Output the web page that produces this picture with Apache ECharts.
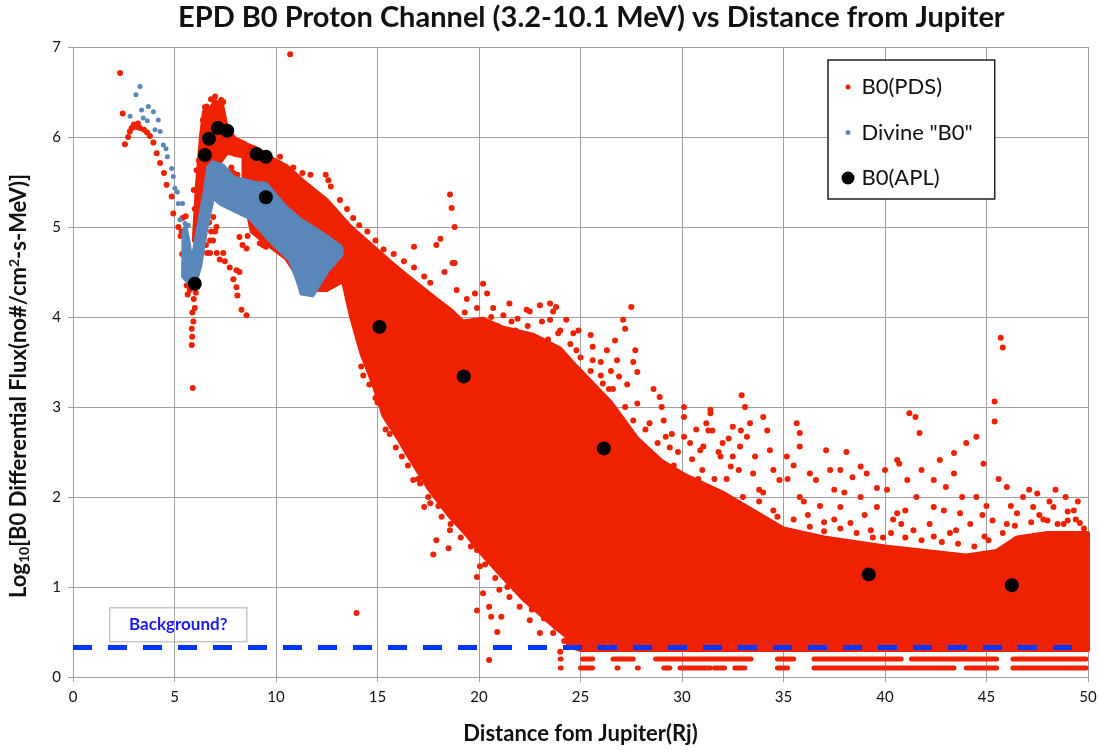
<!DOCTYPE html>
<html>
<head>
<meta charset="utf-8" />
<title>EPD B0 Proton Channel vs Distance from Jupiter</title>
<script src="https://cdn.jsdelivr.net/npm/echarts@6/dist/echarts.min.js"></script>
<style>
  html, body { margin: 0; padding: 0; background: #fff; }
  #chart { width: 1099px; height: 752px; }
</style>
</head>
<body>
<div id="chart"></div>
<script>
// ---- data (x = Rj, y = log10 flux) ----
const xTicks = [0, 5, 10, 15, 20, 25, 30, 35, 40, 45, 50];
const yTicks = [0, 1, 2, 3, 4, 5, 6, 7];
const backgroundLevel = 0.33;

// dense part of the B0(PDS) cloud, outlined clockwise
const pdsCoreEdge = [
  [8.4, 5.93], [9.0, 5.88], [9.8, 5.76], [10.5, 5.68], [11.4, 5.5], [12.5, 5.3], [13.6, 5.02],
  [14.5, 4.84], [15.6, 4.62], [16.4, 4.47], [17.9, 4.2], [18.6, 4.08], [19.2, 3.95], [20.2, 3.98],
  [21.2, 3.88], [22.7, 3.8], [24.0, 3.65], [24.8, 3.45], [26.5, 3.05], [27.8, 2.65], [29.0, 2.4],
  [30.1, 2.25], [32.0, 2.05], [33.5, 1.85], [35.0, 1.65], [37.0, 1.55], [40.0, 1.45], [42.0, 1.4],
  [44.0, 1.35], [45.5, 1.4], [46.5, 1.55], [48.0, 1.6], [50.0, 1.6],
  [50.0, 0.3], [25.0, 0.3], [24.4, 0.35], [24.3, 0.45], [23.5, 0.6], [22.2, 0.86], [21.0, 1.15],
  [20.0, 1.4], [19.5, 1.55], [18.5, 1.8], [17.5, 2.1], [16.4, 2.5], [16.1, 2.62], [15.3, 2.9],
  [14.8, 3.25], [14.2, 3.6], [13.7, 4.0], [13.3, 4.4], [12.5, 4.3], [11.5, 4.3],
  [10.5, 4.65], [9.5, 4.82], [8.8, 4.95], [8.4, 5.4]
];
const pdsPeakEdge = [
  [5.95, 4.85], [6.1, 5.45], [6.3, 6.0], [6.45, 6.28], [6.7, 6.3], [7.0, 6.4], [7.35, 6.35],
  [7.6, 6.08], [8.0, 5.98], [8.5, 5.93], [8.5, 5.78], [8.0, 5.8], [7.6, 5.83], [7.25, 5.72],
  [6.9, 5.6], [6.55, 5.3], [6.25, 4.85]
];
// scattered B0(PDS) samples
const pdsLeft = [
  [2.32, 6.71], [2.45, 6.26], [2.56, 5.92], [2.72, 6.0], [2.8, 6.06], [2.89, 6.1], [3.0, 6.14],
  [3.1, 6.11], [3.2, 6.15], [3.3, 6.1], [3.5, 6.08], [3.65, 6.05], [3.79, 6.01], [3.96, 5.94],
  [4.12, 5.82], [4.29, 5.71], [4.48, 5.6], [4.61, 5.47], [4.86, 5.34], [4.94, 5.15], [5.19, 5.0],
  [5.3, 4.9]
];
const pdsSpike = [
  [5.9, 3.21], [5.85, 3.69], [5.87, 3.78], [5.85, 3.87], [5.93, 3.95], [5.88, 4.05], [6.0, 4.1],
  [5.95, 4.2], [6.05, 4.27], [5.75, 4.3], [5.65, 4.25], [5.6, 4.35], [6.1, 4.48], [6.15, 4.62],
  [6.12, 4.75], [5.5, 4.82], [5.6, 4.78], [5.38, 4.7], [5.35, 4.95], [5.4, 5.1], [5.55, 5.12],
  [5.95, 5.41], [6.0, 5.2], [6.09, 5.63], [6.2, 5.74], [6.4, 6.19], [6.5, 6.33], [6.58, 6.34],
  [6.3, 5.04], [6.45, 4.9], [6.55, 4.8], [6.6, 4.71], [6.35, 4.85], [6.8, 6.42], [7.0, 6.45],
  [7.4, 6.39], [7.3, 6.41]
];
const pdsTrail = [
  [6.7, 5.05], [6.75, 4.85], [6.8, 4.95], [6.91, 5.11], [6.9, 4.85], [7.0, 4.95], [7.07, 5.0],
  [6.75, 4.71], [7.08, 4.71], [7.23, 4.64], [7.4, 4.71], [7.48, 4.62], [7.72, 4.55], [7.9, 4.42],
  [8.05, 4.52], [8.2, 4.5], [8.05, 4.33], [8.1, 4.24], [8.3, 4.08], [8.55, 4.02], [8.2, 4.89],
  [8.35, 4.8], [8.55, 4.76], [8.6, 4.9], [9.2, 4.82], [9.3, 4.93], [9.35, 4.8], [9.5, 4.78],
  [7.73, 5.61], [7.9, 5.6], [7.8, 5.66], [8.1, 5.58]
];
const pdsUpper = [
  [10.7, 6.92], [10.2, 5.78], [10.85, 5.66], [11.3, 5.6], [11.7, 5.58], [12.45, 5.58], [12.58, 5.52],
  [12.7, 5.45], [13.15, 5.3], [13.5, 5.2], [13.8, 5.1], [14.1, 5.02], [14.5, 4.95], [14.9, 4.85],
  [15.3, 4.75], [15.8, 4.7], [16.3, 4.62], [16.8, 4.55], [17.3, 4.45], [18.57, 5.36], [18.65, 5.21],
  [18.8, 5.0], [18.1, 4.87], [17.9, 4.8], [18.7, 4.6], [18.3, 4.5], [16.8, 4.78], [17.6, 4.38],
  [18.9, 4.3], [19.4, 4.2]
];
const pdsMid = [
  [18.8, 4.6], [19.8, 4.26], [20.2, 4.37], [20.4, 4.26], [20.7, 4.1], [21.5, 4.15], [22.35, 4.08],
  [22.5, 4.06], [23.0, 4.13], [23.5, 4.15], [23.65, 4.06], [23.8, 4.11], [23.5, 3.97], [24.3, 3.97],
  [24.65, 3.82], [24.8, 3.63], [25.6, 3.67], [26.3, 3.63], [26.7, 3.74], [26.8, 3.52], [26.9, 3.34],
  [27.1, 3.97], [27.2, 3.87], [27.5, 4.11], [27.7, 3.63], [27.8, 3.39], [25.6, 3.52], [26.1, 3.26],
  [27.8, 3.04], [28.9, 3.11], [29.0, 3.0], [30.1, 3.0], [30.1, 2.89], [31.4, 2.93], [31.3, 2.74],
  [32.9, 2.74], [28.4, 2.82], [29.2, 2.67], [30.1, 2.67], [30.9, 2.52], [32.0, 2.6], [32.5, 2.45],
  [23.2, 3.67], [22.8, 3.52], [25.2, 3.3], [26.4, 3.2], [24.2, 3.55], [21.8, 3.85], [20.9, 3.9],
  [28.3, 2.5], [29.6, 2.35], [29.8, 2.5]
];
const pdsFar = [
  [32.94, 3.13], [33.1, 3.0], [33.35, 2.82], [34.0, 2.89], [34.2, 2.74], [35.65, 2.82], [35.8, 2.71],
  [34.33, 2.52], [35.16, 2.45], [37.1, 2.52], [38.1, 2.5], [38.8, 2.34], [39.1, 2.26], [41.5, 2.89],
  [41.2, 2.93], [41.7, 2.71], [40.7, 2.37], [41.1, 2.19], [42.7, 2.41], [43.4, 2.49], [44.0, 2.6],
  [44.5, 2.67], [44.85, 2.37], [45.4, 3.06], [45.4, 2.84], [45.7, 3.77], [45.8, 3.66], [46.0, 2.11],
  [47.1, 2.08], [47.3, 1.89], [49.0, 1.84], [49.0, 1.74], [49.6, 1.71], [48.5, 1.7], [31.4, 2.97],
  [31.2, 2.82], [31.5, 2.74], [31.05, 2.56], [31.9, 2.45], [32.4, 2.34], [32.86, 2.56], [33.5, 2.26],
  [33.8, 2.08], [34.8, 2.19], [35.8, 2.0], [36.6, 2.19], [37.5, 2.08], [37.8, 1.89], [38.8, 2.0],
  [39.6, 1.89], [40.1, 2.08], [40.6, 1.82], [41.55, 2.0], [42.4, 1.89], [43.0, 2.11], [43.7, 1.82],
  [44.5, 2.0], [45.3, 1.74], [46.5, 1.82], [47.5, 2.04], [48.3, 1.89], [34.7, 1.78], [36.3, 1.67],
  [38.3, 1.71], [39.3, 1.63], [41.4, 1.63], [42.4, 1.56], [43.5, 1.63], [44.9, 1.56], [40.6, 2.41],
  [40.0, 2.3], [32.5, 2.78], [33.2, 2.67], [35.8, 2.56], [36.3, 2.26], [37.8, 2.3], [38.4, 2.22],
  [42.4, 2.19], [43.4, 2.26], [48.4, 2.08], [49.5, 1.95], [35.2, 1.6], [37.0, 1.62], [39.9, 1.55],
  [46.0, 1.7], [47.8, 1.75]
];
// medium-density zone just above the dense cloud
const pdsMedium = [
  [24.6, 3.2], [25.3, 3.05], [25.9, 3.1], [26.2, 2.95], [27.0, 2.8], [27.4, 2.7], [28.0, 2.55],
  [28.6, 2.45], [29.1, 2.85], [29.5, 2.7], [30.4, 2.6], [30.7, 2.75], [31.8, 2.5], [32.3, 2.65],
  [33.6, 2.45], [34.5, 2.3], [35.2, 2.2], [35.5, 2.35], [36.0, 1.95], [36.8, 1.9], [37.3, 2.3],
  [38.0, 2.05], [39.0, 1.8], [39.6, 2.1], [40.4, 1.75], [41.0, 1.85], [41.8, 2.3], [42.2, 1.7],
  [42.9, 1.85], [43.8, 2.0], [44.2, 1.7], [45.0, 1.9], [45.6, 2.2], [46.2, 1.9], [46.8, 2.0],
  [47.6, 1.8], [48.1, 1.95], [48.9, 2.0], [49.3, 1.85], [49.8, 1.65], [19.6, 3.9], [20.5, 3.85],
  [21.6, 3.95], [22.2, 3.7], [23.4, 3.75], [24.0, 3.85], [24.9, 3.85], [25.5, 3.8], [26.0, 3.5],
  [26.5, 3.4], [27.3, 3.25], [27.6, 3.5], [28.6, 3.2], [30.8, 2.2], [32.8, 2.3], [34.0, 2.05],
  [37.5, 1.75], [40.8, 1.7], [43.2, 1.6], [44.8, 1.8]
];
const pdsLow = [
  [13.97, 0.71], [16.76, 2.19], [17.1, 2.15], [17.3, 1.89], [17.6, 1.93], [18.16, 1.78], [18.57, 1.63],
  [17.9, 1.52], [17.75, 1.36], [18.5, 1.43], [19.4, 1.71], [19.9, 1.41], [20.05, 1.23], [19.9, 1.11],
  [20.2, 0.93], [19.9, 0.74], [20.5, 0.78], [20.6, 0.67], [20.9, 0.5], [21.1, 0.67], [20.5, 0.19],
  [21.5, 0.89], [22.0, 0.78], [22.5, 0.63], [23.0, 0.49], [23.65, 0.49], [23.8, 0.74], [24.0, 0.28],
  [21.7, 1.04], [21.0, 0.97], [15.6, 2.7], [16.2, 2.45], [14.3, 3.35], [14.9, 3.1]
];
// ragged samples hugging the edges of the dense cloud
const pdsFringe = [
  [19.3, 4.05], [19.9, 4.1], [20.6, 4.0], [21.2, 4.02], [21.9, 3.98], [22.4, 3.9], [23.1, 3.95],
  [23.9, 3.82], [24.5, 3.7], [25.0, 3.55], [25.5, 3.4], [26.0, 3.35], [26.6, 3.2], [27.2, 3.0],
  [27.6, 2.85], [28.2, 2.75], [28.8, 2.6], [29.4, 2.55], [30.5, 2.42], [31.0, 2.3], [31.6, 2.2],
  [32.2, 2.2], [33.0, 2.0], [33.8, 1.95], [34.5, 1.85], [35.5, 1.75], [36.2, 1.8], [37.0, 1.72],
  [37.8, 1.65], [38.6, 1.6], [39.4, 1.55], [40.3, 1.6], [41.0, 1.55], [41.8, 1.52], [42.8, 1.5],
  [43.6, 1.48], [44.4, 1.45], [45.1, 1.52], [45.8, 1.6], [46.4, 1.68], [47.2, 1.72], [48.0, 1.74],
  [48.8, 1.7], [49.4, 1.75],
  [14.2, 3.45], [14.6, 3.25], [15.0, 3.05], [15.4, 2.75], [15.9, 2.55], [16.5, 2.35], [17.0, 2.2],
  [17.5, 2.0], [18.0, 1.9], [18.6, 1.7], [19.1, 1.55], [19.6, 1.45], [20.3, 1.25], [20.8, 1.1],
  [21.4, 1.0], [22.0, 0.95], [22.6, 0.75], [23.2, 0.65], [23.8, 0.55], [24.2, 0.4]
];
// rows of low-count samples under the background line: [xFrom, xTo, y]
const pdsFloorRows = [
  [24.0, 24.05, 0.2], [25.1, 25.6, 0.2], [26.6, 27.6, 0.2], [28.7, 33.4, 0.2], [34.7, 35.5, 0.2],
  [36.5, 40.8, 0.2], [41.3, 45.5, 0.2], [46.3, 49.9, 0.2],
  [24.0, 24.05, 0.1], [25.0, 25.6, 0.1], [26.8, 26.85, 0.1], [27.8, 27.85, 0.1], [29.1, 29.4, 0.1],
  [29.9, 31.4, 0.1], [31.6, 32.1, 0.1], [32.6, 33.1, 0.1], [34.7, 35.2, 0.1], [36.5, 43.4, 0.1],
  [44.0, 45.5, 0.1], [46.3, 49.9, 0.1]
];

// Divine "B0" model: solid band plus a sparse inner trail
const divineEdge = [
  [5.42, 4.45], [5.45, 4.95], [5.55, 5.0], [5.72, 4.8], [5.84, 4.58], [6.17, 5.0], [6.5, 5.41],
  [6.67, 5.67], [6.9, 5.72], [7.4, 5.68], [7.9, 5.55], [9.0, 5.49], [9.5, 5.48], [10.4, 5.24],
  [11.2, 5.08], [12.0, 4.97], [13.2, 4.78],
  [13.25, 4.7], [12.5, 4.5], [11.8, 4.24], [11.25, 4.26], [11.15, 4.35], [10.7, 4.63], [9.7, 4.85],
  [8.7, 5.1], [7.25, 5.26], [6.9, 5.33], [6.58, 5.0], [6.26, 4.56], [6.05, 4.4], [5.7, 4.38]
];
const divineTrail = [
  [3.3, 6.56], [3.1, 6.47], [2.81, 6.23], [3.38, 6.3], [3.71, 6.34], [3.96, 6.28], [3.46, 6.21],
  [3.66, 6.18], [4.2, 6.19], [4.04, 6.08], [4.29, 6.06], [4.45, 5.91], [4.58, 5.87], [4.65, 5.78],
  [4.86, 5.65], [4.94, 5.56], [5.02, 5.43], [5.14, 5.39], [5.19, 5.26], [5.4, 5.26], [5.27, 5.08],
  [5.52, 5.04], [5.68, 5.02]
];

// B0(APL)
const aplPoints = [
  [6.0, 4.37], [6.5, 5.8], [6.7, 5.98], [7.14, 6.1], [7.6, 6.07], [9.05, 5.81], [9.5, 5.78],
  [9.5, 5.33], [15.1, 3.89], [19.25, 3.34], [26.15, 2.54], [39.2, 1.14], [46.25, 1.02]
];

const RED = '#ee2200';
const BLUE = '#5a87b9';
const FONT = 'Lato, "Open Sans", sans-serif';

const chart = echarts.init(document.getElementById('chart'));

function polygonRenderer(edge, color) {
  return function (params, api) {
    if (params.dataIndex !== 0) return;
    return {
      type: 'polygon',
      shape: { points: edge.map(function (p) { return api.coord(p); }) },
      style: { fill: color, stroke: color, lineWidth: 4, lineJoin: 'round' }
    };
  };
}

const pdsAll = pdsLeft.concat(pdsSpike, pdsTrail, pdsUpper, pdsMid, pdsFar, pdsMedium, pdsLow, pdsFringe);

const option = {
  animation: false,
  backgroundColor: '#fff',
  title: {
    text: 'EPD B0 Proton Channel (3.2-10.1 MeV) vs Distance from Jupiter',
    left: 178,
    top: 0,
    padding: [3, 0, 0, 0],
    textStyle: { fontFamily: FONT, fontSize: 29, fontWeight: 'bold', color: '#111' }
  },
  legend: {
    orient: 'vertical',
    left: 828,
    top: 60,
    padding: [15, 22, 9, 11.5],
    borderColor: '#222',
    borderWidth: 1.5,
    backgroundColor: '#fff',
    itemWidth: 17,
    itemHeight: 17,
    itemGap: 21.5,
    textStyle: { fontFamily: FONT, fontSize: 22, color: '#111', lineHeight: 24 },
    data: [
      { name: 'B0(PDS)', icon: 'path://M0,0M17,17M6,8.5a2.5,2.5 0 1 0 5,0a2.5,2.5 0 1 0 -5,0z' },
      { name: 'Divine "B0"', icon: 'path://M0,0M17,17M6,8.5a2.5,2.5 0 1 0 5,0a2.5,2.5 0 1 0 -5,0z' },
      { name: 'B0(APL)', icon: 'path://M0,0M17,17M2,8.5a6.5,6.5 0 1 0 13,0a6.5,6.5 0 1 0 -13,0z' }
    ]
  },
  grid: { left: 73, right: 11, top: 47, bottom: 75, containLabel: false, outerBoundsMode: 'none' },
  xAxis: {
    type: 'value',
    min: xTicks[0],
    max: xTicks[xTicks.length - 1],
    interval: 5,
    name: 'Distance fom Jupiter(Rj)',
    nameLocation: 'middle',
    nameGap: 46,
    nameTextStyle: { fontFamily: FONT, fontSize: 22, fontWeight: 'bold', color: '#111' },
    axisLine: { lineStyle: { color: '#a0a0a0', width: 1 } },
    axisTick: { show: true, inside: false, length: 5, lineStyle: { color: '#a0a0a0' } },
    axisLabel: { fontFamily: FONT, fontSize: 15, color: '#111', margin: 13 },
    splitLine: { show: true, lineStyle: { color: '#a0a0a0', width: 1 } }
  },
  yAxis: {
    type: 'value',
    min: yTicks[0],
    max: yTicks[yTicks.length - 1],
    interval: 1,
    name: '{b|Log}{s|10}{b|[B0 Differential Flux(no#/cm}{p|2}{b|-s-MeV)]}',
    nameLocation: 'middle',
    nameGap: 42,
    nameRotate: 90,
    nameTextStyle: {
      color: '#111',
      padding: [0, 48, 0, 0],
      rich: {
        b: { fontFamily: FONT, fontSize: 22, fontWeight: 'bold', color: '#111', lineHeight: 24, verticalAlign: 'middle' },
        s: { fontFamily: FONT, fontSize: 14, fontWeight: 'bold', color: '#111', lineHeight: 12, verticalAlign: 'bottom' },
        p: { fontFamily: FONT, fontSize: 14, fontWeight: 'bold', color: '#111', lineHeight: 12, verticalAlign: 'top' }
      }
    },
    axisLine: { show: true, lineStyle: { color: '#a0a0a0', width: 1 } },
    axisTick: { show: true, inside: false, length: 5, lineStyle: { color: '#a0a0a0' } },
    axisLabel: { fontFamily: FONT, fontSize: 15, color: '#111', margin: 12 },
    splitLine: { show: true, lineStyle: { color: '#a0a0a0', width: 1 } }
  },
  graphic: [{
    type: 'group',
    left: 109,
    top: 607,
    children: [
      { type: 'rect', shape: { x: 0, y: 0, width: 137, height: 34 }, style: { fill: '#fff', stroke: '#c8c8c8', lineWidth: 1.5 } },
      { type: 'text', x: 68.5, y: 17, style: { text: 'Background?', fill: '#1a1aff', font: 'bold 17px ' + FONT, align: 'center', verticalAlign: 'middle' } }
    ]
  }],
  series: [
    {
      type: 'custom', name: 'pdsCore', silent: true, z: 1,
      renderItem: polygonRenderer(pdsCoreEdge, RED), data: pdsCoreEdge
    },
    {
      type: 'custom', name: 'pdsPeak', silent: true, z: 1,
      renderItem: polygonRenderer(pdsPeakEdge, RED), data: pdsPeakEdge
    },
    {
      type: 'custom', name: 'pdsFloor', silent: true, z: 1,
      renderItem: function (params, api) {
        const a = api.coord([api.value(0), api.value(2)]);
        const b = api.coord([api.value(1), api.value(2)]);
        return {
          type: 'line',
          shape: { x1: a[0], y1: a[1], x2: b[0], y2: b[1] },
          style: { stroke: RED, lineWidth: 5, lineCap: 'round' }
        };
      },
      encode: { x: [0, 1], y: 2 },
      data: pdsFloorRows
    },
    {
      type: 'scatter', name: 'B0(PDS)', z: 2,
      symbol: 'circle', symbolSize: 6,
      itemStyle: { color: RED, opacity: 1 },
      data: pdsAll,
      markLine: {
        silent: true,
        symbol: 'none',
        z: 10,
        label: { show: false },
        lineStyle: { color: '#0036ff', width: 5, type: [19, 16] },
        data: [{ yAxis: backgroundLevel }]
      }
    },
    {
      type: 'custom', name: 'divineBand', silent: true, z: 3,
      renderItem: polygonRenderer(divineEdge, BLUE), data: divineEdge
    },
    {
      type: 'scatter', name: 'Divine "B0"', z: 4,
      symbol: 'circle', symbolSize: 5,
      itemStyle: { color: BLUE, opacity: 1 },
      data: divineTrail
    },
    {
      type: 'scatter', name: 'B0(APL)', z: 5,
      symbol: 'circle', symbolSize: 14,
      itemStyle: { color: '#000', opacity: 1 },
      data: aplPoints
    }
  ]
};

chart.setOption(option);
window.onresize = function () { chart.resize(); };
</script>
</body>
</html>
